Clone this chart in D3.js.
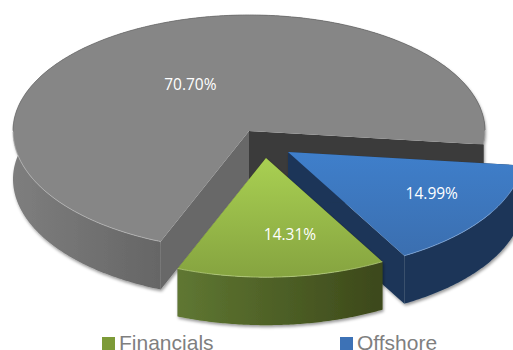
<!DOCTYPE html>
<html>
<head>
<meta charset="utf-8">
<script src="https://cdn.jsdelivr.net/npm/d3@7"></script>
<style>
  html, body { margin: 0; padding: 0; background: #fff; overflow: hidden; }
  svg { display: block; }
</style>
</head>
<body>
<svg id="my-svg" width="513" height="350"></svg>
<script>
// values, clockwise from the 96.5 deg start
const categories = ["Offshore", "Financials", "Other"];
const shares = [14.99, 14.31, 70.70];
const labels = ["14.99%", "14.31%", "70.70%"];
const legendItems = ["Financials", "Offshore"];

const svg = d3.select("#my-svg"),
      radius = 236, depth = 48,
      squashBack = 0.4915, squashFront = 0.505,   // front of the pie is a bit deeper (perspective)
      center = {x: 249, y: 131},
      startAngle = 96.5 * Math.PI / 180;

// per slice drawing setup, no data in here
const look = {
    Offshore: {
        dx: 39, dy: 21, labelR: 166, labelAngle: 120,
        top: ["#3f7fcb", "#3b6fb0"], topY: [152, 254],
        rim: [[0, "#1b3658"], [1, "#1b3658"]],
        wall: "#1b3658", edge: "#7fa6d8"
    },
    Financials: {
        dx: 17, dy: 27, labelR: 153, labelAngle: 171,
        top: ["#a9d052", "#86a440"], topY: [158, 276],
        rim: [[0, "#5f7732"], [1, "#3c481a"]],
        wall: "#3c481a", edge: "#b4cc7c"
    },
    Other: {
        dx: 0, dy: 0, labelR: 112, labelAngle: 328.4,
        top: ["#868686", "#868686"], topY: [15, 243],
        rim: [[0, "#7e7e7e"], [0.32, "#656565"], [0.5, "#3a3a3a"], [1, "#3a3a3a"]],
        wall: null, edge: "#b5b5b5", backEdge: "#6f6f6f"
    }
};
const otherWalls = ["#3a3a3a", "#676767"];   // end wall, start wall

const pie = d3.pie().sort(null)
    .startAngle(startAngle)
    .endAngle(startAngle + 2 * Math.PI);

const px = (a, r) => r * Math.sin(a),
      py = (a, r) => {
          const c = Math.cos(a);
          return -r * c * (c < 0 ? squashFront : squashBack);
      };

const defs = svg.append("defs");

const filter = defs.append("filter").attr("id", "soft")
    .attr("x", "-5%").attr("y", "-5%").attr("width", "110%").attr("height", "115%");
filter.append("feDropShadow")
    .attr("dx", 1).attr("dy", 2).attr("stdDeviation", 1.6)
    .attr("flood-color", "#000").attr("flood-opacity", 0.4);

const slices = pie(shares).map((d, i) => ({...d, name: categories[i], label: labels[i]}));

// drawing order: back slice first, then the pulled out ones
const order = ["Other", "Offshore", "Financials"];

order.forEach(name => {
    const d = slices.find(s => s.name === name),
          st = look[name],
          ox = center.x + st.dx,
          oy = center.y + st.dy;

    const g = svg.append("g").attr("transform", `translate(${ox},${oy})`);

    const rimGrad = defs.append("linearGradient")
        .attr("id", "rim" + name).attr("gradientUnits", "userSpaceOnUse");
    const angles = d3.range(d.startAngle, d.endAngle, 0.01).concat([d.endAngle]);
    const xs = d3.extent(angles, a => px(a, radius));
    rimGrad.attr("x1", xs[0]).attr("x2", xs[1]).attr("y1", 0).attr("y2", 0);
    rimGrad.selectAll("stop").data(st.rim).join("stop")
        .attr("offset", s => s[0]).attr("stop-color", s => s[1]);

    const topGrad = defs.append("linearGradient")
        .attr("id", "top" + name).attr("gradientUnits", "userSpaceOnUse")
        .attr("x1", 0).attr("x2", 0)
        .attr("y1", st.topY[0] - oy).attr("y2", st.topY[1] - oy);
    topGrad.append("stop").attr("offset", 0).attr("stop-color", st.top[0]);
    topGrad.append("stop").attr("offset", 1).attr("stop-color", st.top[1]);

    const solid = g.append("g").style("filter", "url(#soft)");

    // cut faces under the two straight edges
    [d.endAngle, d.startAngle].forEach((a, i) => {
        const wall = d3.line()([
            [0, 0],
            [px(a, radius), py(a, radius)],
            [px(a, radius), py(a, radius) + depth],
            [0, depth]
        ]) + "Z";
        solid.append("path")
            .attr("d", wall)
            .attr("fill", st.wall || otherWalls[i]);
    });

    const area = d3.area()
        .x(a => px(a, radius))
        .y0(a => py(a, radius))
        .y1(a => py(a, radius) + depth);

    solid.append("path")
        .attr("d", area(angles))
        .attr("fill", `url(#rim${name})`);

    // top face, built from the pie angles so the two squash values can apply
    const rimLine = d3.line().x(a => px(a, radius)).y(a => py(a, radius));
    g.append("path")
        .attr("d", "M0,0L" + rimLine(angles).slice(1) + "Z")
        .attr("fill", `url(#top${name})`);

    // thin line where the top meets the rim: light at the front, darker at the back
    g.append("path")
        .attr("d", d3.line().defined(a => Math.cos(a) < 0)
            .x(a => px(a, radius)).y(a => py(a, radius))(angles))
        .attr("fill", "none")
        .attr("stroke", st.edge)
        .attr("stroke-width", 0.8);

    if (st.backEdge) {
        g.append("path")
            .attr("d", d3.line().defined(a => Math.cos(a) >= 0)
                .x(a => px(a, radius)).y(a => py(a, radius))(angles))
            .attr("fill", "none")
            .attr("stroke", st.backEdge)
            .attr("stroke-width", 0.8);
    }

    const la = st.labelAngle * Math.PI / 180;
    g.append("text")
        .attr("x", px(la, st.labelR))
        .attr("y", py(la, st.labelR))
        .attr("dy", "0.36em")
        .attr("text-anchor", "middle")
        .attr("fill", "#fff")
        .style("font-family", "'Open Sans', sans-serif")
        .style("font-size", "15.5px")
        .text(d.label);
});

// legend
const legendX = d3.scaleOrdinal().domain(legendItems).range([102, 340]);
const legendColor = d3.scaleOrdinal().domain(legendItems).range(["#7d9b38", "#3d72b6"]);

const legend = svg.selectAll("g.legend")
    .data(legendItems)
    .join("g")
    .attr("class", "legend")
    .attr("transform", d => `translate(${legendX(d)},337)`);

legend.append("rect")
    .attr("width", 13).attr("height", 13)
    .attr("fill", d => legendColor(d));

legend.append("text")
    .attr("x", 17).attr("y", 12.5)
    .attr("fill", "#7f7f7f")
    .style("font-family", "'Liberation Sans', Arial, sans-serif")
    .style("font-size", "21px")
    .text(d => d);
</script>
</body>
</html>
